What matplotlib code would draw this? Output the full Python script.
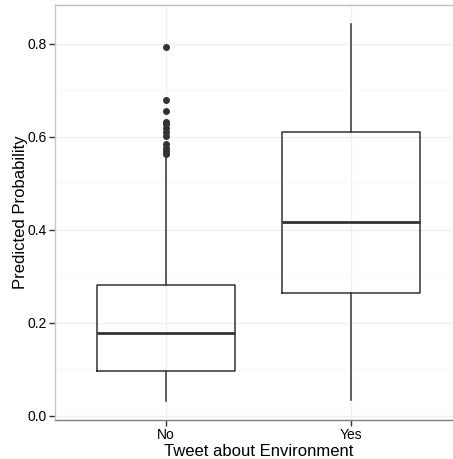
import matplotlib
matplotlib.use('Agg')
import matplotlib.pyplot as plt
import numpy as np

# box statistics
groups = ['No', 'Yes']
whislo = [0.031, 0.034]
q1 = [0.095, 0.264]
med = [0.178, 0.417]
q3 = [0.281, 0.610]
whishi = [0.554, 0.842]
fliers_no = [0.792, 0.679, 0.655, 0.632, 0.626, 0.619, 0.610, 0.602,
             0.583, 0.576, 0.568, 0.563]
fliers_yes = []

plt.rcParams['font.family'] = ['Liberation Sans', 'DejaVu Sans']

fig = plt.figure(figsize=(4.53, 4.59), dpi=100)
W, H = 453, 459
ax = fig.add_axes([55 / W, (H - 420) / H, (462 - 55) / W, (420 - 5) / H])

stats = []
for i, g in enumerate(groups):
    stats.append({'label': g, 'whislo': whislo[i], 'q1': q1[i], 'med': med[i],
                  'q3': q3[i], 'whishi': whishi[i],
                  'fliers': [fliers_no, fliers_yes][i]})

ax.bxp(stats, positions=[1, 2], widths=0.75, showcaps=False,
       boxprops=dict(color='#333333', linewidth=1.1),
       whiskerprops=dict(color='#333333', linewidth=1.1),
       medianprops=dict(color='#333333', linewidth=2.0),
       flierprops=dict(marker='o', markerfacecolor='#333333',
                       markeredgecolor='#333333', markersize=4),
       zorder=3)

ax.set_xlim(0.4, 2.6)
ax.set_ylim(-0.0096, 0.883)
ax.set_yticks([0.0, 0.2, 0.4, 0.6, 0.8])
ax.set_yticklabels(['0.0', '0.2', '0.4', '0.6', '0.8'])
ax.set_yticks([0.1, 0.3, 0.5, 0.7], minor=True)
ax.set_xticks([1, 2])
ax.set_xticklabels(groups)

ax.grid(True, which='major', color='#f0f0f0', linewidth=1.0, zorder=0)
ax.grid(True, which='minor', axis='y', color='#fafafa', linewidth=1.0, zorder=0)
ax.set_axisbelow(True)

ax.tick_params(axis='both', which='major', length=4, width=1, color='#333333',
               labelsize=10, labelcolor='black', pad=2)
ax.tick_params(axis='y', which='minor', length=0)

ax.spines['left'].set_color('#c8c8c8')
ax.spines['top'].set_color('#bdbdbd')
ax.spines['bottom'].set_color('#7f7f7f')
ax.spines['right'].set_visible(False)
for s in ax.spines.values():
    s.set_linewidth(1.0)

ax.set_xlabel('Tweet about Environment', fontsize=12, labelpad=1)
ax.set_ylabel('Predicted Probability', fontsize=12)
ax.yaxis.set_label_coords(-0.066, 0.5)

fig.savefig('out.png', dpi=100)
